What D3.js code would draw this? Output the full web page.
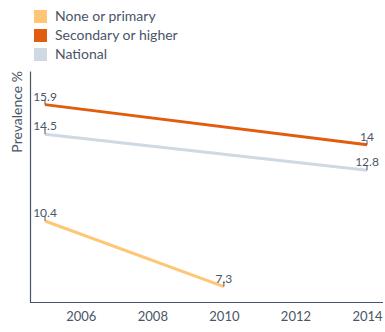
<!DOCTYPE html>
<html>
<head>
<meta charset="utf-8">
<script src="https://cdn.jsdelivr.net/npm/d3@7"></script>
<style>
  body { margin: 0; background: #fff; }
  text { font-family: Lato, "Open Sans", sans-serif; }
</style>
</head>
<body>
<div id="chart"></div>
<script>
// Prevalence by education level

const seriesNames = ['None or primary', 'Secondary or higher', 'National'];
const seriesColors = ['#ffc677', '#e05c0e', '#cfd8e3'];
const noneYears = [2005, 2010];
const noneValues = [10.4, 7.3];
const secondaryYears = [2005, 2014];
const secondaryValues = [15.9, 14];
const nationalYears = [2005, 2014];
const nationalValues = [14.5, 12.8];
const tickYears = [2006, 2008, 2010, 2012, 2014];

const width = 385;
const height = 332;
const textColor = '#4a5568';

const series = [
  { name: seriesNames[0], color: seriesColors[0], years: noneYears, values: noneValues },
  { name: seriesNames[1], color: seriesColors[1], years: secondaryYears, values: secondaryValues },
  { name: seriesNames[2], color: seriesColors[2], years: nationalYears, values: nationalValues }
].map(s => ({ ...s, points: s.years.map((y, i) => ({ year: y, value: s.values[i] })) }));

const allValues = series.flatMap(s => s.values);

const svg = d3.select('#chart')
  .append('svg')
  .attr('width', width)
  .attr('height', height);

const x = d3.scaleLinear()
  .domain([2005, 2014])
  .range([45, 367]);

const y = d3.scaleLinear()
  .domain([d3.min(allValues) * 0.9, d3.max(allValues) * 1.1])
  .range([302, 71]);

// Axes
const xAxis = svg.append('g')
  .attr('transform', 'translate(0,302)')
  .call(d3.axisBottom(x).tickValues(tickYears).tickFormat(d3.format('d')).tickSize(0).tickPadding(10));
xAxis.select('.domain')
  .attr('d', 'M30,0.5H383')
  .attr('stroke', textColor)
  .attr('stroke-width', 1.2);
xAxis.selectAll('text')
  .attr('fill', textColor)
  .attr('font-size', 13);

const yAxis = svg.append('g')
  .attr('transform', 'translate(30,0)')
  .call(d3.axisLeft(y).tickValues([]).tickSizeOuter(0));
yAxis.select('.domain')
  .attr('stroke', textColor)
  .attr('stroke-width', 1.2);

svg.append('text')
  .attr('transform', 'translate(22,71) rotate(-90)')
  .attr('text-anchor', 'end')
  .attr('fill', textColor)
  .attr('font-size', 14)
  .text('Prevalence %');

// Lines
const line = d3.line()
  .x(d => x(d.year))
  .y(d => y(d.value));

svg.selectAll('.series-line')
  .data(series)
  .join('path')
  .attr('class', 'series-line')
  .attr('d', d => line(d.points))
  .attr('fill', 'none')
  .attr('stroke', d => d.color)
  .attr('stroke-width', 3);

// Point labels with small ticks
const labels = series.flatMap(s => s.points);

svg.selectAll('.label-tick')
  .data(labels)
  .join('line')
  .attr('class', 'label-tick')
  .attr('x1', d => x(d.year))
  .attr('x2', d => x(d.year))
  .attr('y1', d => y(d.value))
  .attr('y2', d => y(d.value) - 5)
  .attr('stroke', textColor)
  .attr('stroke-width', 1);

svg.selectAll('.point-label')
  .data(labels)
  .join('text')
  .attr('class', 'point-label')
  .attr('x', d => x(d.year))
  .attr('y', d => y(d.value) - 4)
  .attr('text-anchor', 'middle')
  .attr('fill', textColor)
  .attr('font-size', 12)
  .text(d => d3.format('')(d.value));

// Legend
const legend = svg.selectAll('.legend')
  .data(series)
  .join('g')
  .attr('class', 'legend')
  .attr('transform', (d, i) => `translate(34,${10 + i * 19})`);

legend.append('rect')
  .attr('width', 13)
  .attr('height', 13)
  .attr('fill', d => d.color);

legend.append('text')
  .attr('x', 21)
  .attr('y', 11)
  .attr('fill', textColor)
  .attr('font-size', 14)
  .text(d => d.name);
</script>
</body>
</html>
